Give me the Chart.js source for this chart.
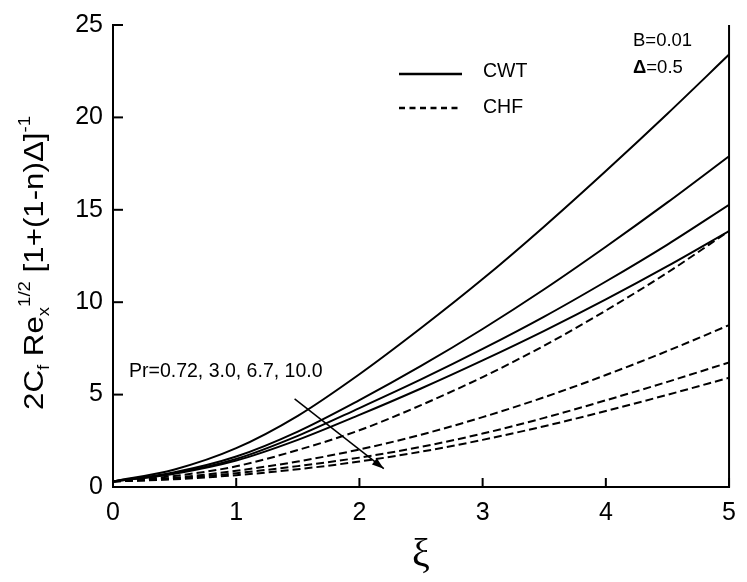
<!DOCTYPE html>
<html>
<head>
<meta charset="utf-8">
<script src="https://cdn.jsdelivr.net/npm/chart.js@4.4.1/dist/chart.umd.min.js"></script>
<style>
  html, body { margin: 0; padding: 0; background: #fff; }
  #wrap { width: 747px; height: 582px; }
</style>
</head>
<body>
<div id="wrap"><canvas id="c" width="747" height="582"></canvas></div>
<script>
// Streamwise coordinate ξ
const xi = [0, 0.5, 1, 1.5, 2, 2.5, 3, 3.5, 4, 4.5, 5];

// Constant wall temperature (CWT), Pr = 0.72, 3.0, 6.7, 10.0
const cwtPr072 = [0.30, 0.95, 2.10, 3.85, 6.10, 8.60, 11.25, 14.10, 17.10, 20.20, 23.40];
const cwtPr30  = [0.30, 0.80, 1.65, 3.00, 4.70, 6.55, 8.55, 10.70, 13.00, 15.40, 17.90];
const cwtPr67  = [0.30, 0.75, 1.52, 2.77, 4.27, 5.82, 7.47, 9.22, 11.12, 13.12, 15.27];
const cwtPr10  = [0.30, 0.72, 1.43, 2.55, 3.90, 5.33, 6.85, 8.45, 10.15, 11.95, 13.85];

// Constant heat flux (CHF), Pr = 0.72, 3.0, 6.7, 10.0
const chfPr072 = [0.30, 0.60, 1.12, 2.00, 3.07, 4.43, 5.95, 7.65, 9.55, 11.60, 13.85];
const chfPr30  = [0.30, 0.50, 0.88, 1.38, 2.03, 2.83, 3.78, 4.86, 6.06, 7.36, 8.76];
const chfPr67  = [0.30, 0.45, 0.75, 1.13, 1.59, 2.17, 2.89, 3.74, 4.69, 5.69, 6.74];
const chfPr10  = [0.30, 0.42, 0.64, 0.96, 1.38, 1.91, 2.55, 3.29, 4.11, 4.99, 5.91];

// Axis ticks
const xTicks = [0, 1, 2, 3, 4, 5];
const yTicks = [0, 5, 10, 15, 20, 25];

// Arrow showing increasing Pr (data coordinates: [ξ, value])
const arrowFrom = [1.474, 4.77];
const arrowTo   = [2.198, 0.99];

const SANS = "'Liberation Sans', Arial, sans-serif";

function series(label, values, dashed) {
  return {
    label: label,
    data: xi.map((x, i) => ({ x: x, y: values[i] })),
    borderColor: '#000',
    borderWidth: 2,
    borderDash: dashed ? [8, 4] : [],
    pointRadius: 0,
    fill: false,
    cubicInterpolationMode: 'monotone'
  };
}

const datasets = [
  series('CWT Pr=0.72', cwtPr072, false),
  series('CWT Pr=3.0', cwtPr30, false),
  series('CWT Pr=6.7', cwtPr67, false),
  series('CWT Pr=10.0', cwtPr10, false),
  series('CHF Pr=0.72', chfPr072, true),
  series('CHF Pr=3.0', chfPr30, true),
  series('CHF Pr=6.7', chfPr67, true),
  series('CHF Pr=10.0', chfPr10, true),
  {
    label: 'arrow',
    data: [{ x: arrowFrom[0], y: arrowFrom[1] }, { x: arrowTo[0], y: arrowTo[1] }],
    borderColor: '#000',
    borderWidth: 1.5,
    pointRadius: 0,
    tension: 0,
    fill: false
  }
];

// Draw mixed-size text runs (subscripts / superscripts) along a baseline
function setRunFont(ctx, r) {
  ctx.font = (r.bold ? 'bold ' : '') + r.size + 'px ' + SANS;
}
function drawRuns(ctx, runs, x, y) {
  let cx = x;
  runs.forEach(r => {
    setRunFont(ctx, r);
    ctx.fillText(r.t, cx, y + (r.dy || 0));
    cx += ctx.measureText(r.t).width;
  });
  return cx - x;
}
function runsWidth(ctx, runs) {
  let w = 0;
  runs.forEach(r => {
    setRunFont(ctx, r);
    w += ctx.measureText(r.t).width;
  });
  return w;
}

const decorations = {
  id: 'decorations',
  afterDraw(chart) {
    const ctx = chart.ctx;
    const a = chart.chartArea;
    const sx = chart.scales.x, sy = chart.scales.y;
    ctx.save();
    ctx.strokeStyle = '#000';
    ctx.fillStyle = '#000';

    // right frame line
    ctx.lineWidth = 2;
    ctx.beginPath();
    ctx.moveTo(a.right, a.top);
    ctx.lineTo(a.right, a.bottom + 1);
    ctx.stroke();

    // inward tick marks
    yTicks.forEach(v => {
      const py = sy.getPixelForValue(v);
      ctx.beginPath();
      ctx.moveTo(a.left, py);
      ctx.lineTo(a.left + 10, py);
      ctx.stroke();
    });
    xTicks.forEach(v => {
      const px = sx.getPixelForValue(v);
      ctx.beginPath();
      ctx.moveTo(px, a.bottom);
      ctx.lineTo(px, a.bottom - 9);
      ctx.stroke();
    });

    // arrowhead
    const x0 = sx.getPixelForValue(arrowFrom[0]), y0 = sy.getPixelForValue(arrowFrom[1]);
    const x1 = sx.getPixelForValue(arrowTo[0]), y1 = sy.getPixelForValue(arrowTo[1]);
    const ang = Math.atan2(y1 - y0, x1 - x0);
    const L = 12, W = 4;
    ctx.beginPath();
    ctx.moveTo(x1, y1);
    ctx.lineTo(x1 - L * Math.cos(ang) + W * Math.sin(ang), y1 - L * Math.sin(ang) - W * Math.cos(ang));
    ctx.lineTo(x1 - L * Math.cos(ang) - W * Math.sin(ang), y1 - L * Math.sin(ang) + W * Math.cos(ang));
    ctx.closePath();
    ctx.fill();

    // legend
    ctx.lineWidth = 2.6;
    ctx.setLineDash([]);
    ctx.beginPath();
    ctx.moveTo(399, 74);
    ctx.lineTo(462, 74);
    ctx.stroke();
    ctx.setLineDash([6, 4.5]);
    ctx.beginPath();
    ctx.moveTo(399, 108);
    ctx.lineTo(462, 108);
    ctx.stroke();
    ctx.setLineDash([]);
    ctx.textBaseline = 'alphabetic';
    ctx.textAlign = 'left';
    ctx.font = '19.5px ' + SANS;
    ctx.fillText('CWT', 483, 77);
    ctx.fillText('CHF', 483, 113);

    // parameters
    ctx.font = '18.5px ' + SANS;
    ctx.fillText('B=0.01', 633, 46);
    drawRuns(ctx, [{ t: 'Δ', size: 18.5, bold: true }, { t: '=0.5', size: 18.5 }], 633, 73);

    // Prandtl numbers
    ctx.font = '19.5px ' + SANS;
    ctx.fillText('Pr=0.72, 3.0, 6.7, 10.0', 129, 377);

    // y-axis title with sub/superscripts, rotated
    const runs = [
      { t: '2C', size: 27 },
      { t: 'f', size: 16, dy: 6 },
      { t: ' Re', size: 27 },
      { t: 'x', size: 16, dy: 6 },
      { t: '1/2', size: 16, dy: -13 },
      { t: ' [1+(1-n)Δ]', size: 27 },
      { t: '-1', size: 16, dy: -13 }
    ];
    const span = 294;
    const w = runsWidth(ctx, runs);
    ctx.translate(43, 410);
    ctx.rotate(-Math.PI / 2);
    ctx.scale(span / w, 1);
    drawRuns(ctx, runs, 0, 0);
    ctx.restore();
  }
};

new Chart(document.getElementById('c'), {
  type: 'line',
  data: { datasets: datasets },
  options: {
    responsive: false,
    devicePixelRatio: 1,
    animation: false,
    layout: { padding: { top: 17, right: 9, left: 0, bottom: 0 } },
    plugins: {
      legend: { display: false },
      tooltip: { enabled: false }
    },
    scales: {
      x: {
        type: 'linear',
        min: 0,
        max: 5,
        afterBuildTicks: s => { s.ticks = xTicks.map(v => ({ value: v })); },
        afterFit: s => { s.height = 95; },
        ticks: { font: { family: SANS, size: 25 }, color: '#000', padding: 11 },
        grid: { display: false, drawTicks: false },
        border: { display: true, color: '#000', width: 2 },
        title: {
          display: true,
          text: 'ξ',
          color: '#000',
          font: { family: "'Liberation Serif', serif", size: 40 },
          padding: { top: 0, bottom: 3 }
        }
      },
      y: {
        type: 'linear',
        min: 0,
        max: 25,
        afterBuildTicks: s => { s.ticks = yTicks.map(v => ({ value: v })); },
        afterFit: s => { s.width = 113; },
        ticks: { font: { family: SANS, size: 25 }, color: '#000', padding: 10 },
        grid: { display: false, drawTicks: false },
        border: { display: true, color: '#000', width: 2 }
      }
    }
  },
  plugins: [decorations]
});
</script>
</body>
</html>
